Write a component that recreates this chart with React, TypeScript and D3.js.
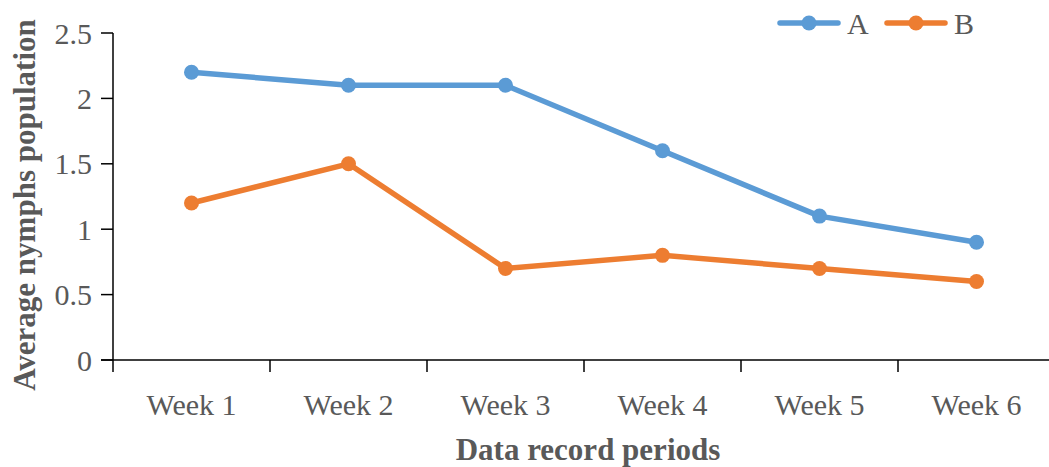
import React from "react";
import * as d3 from "d3";

const categories = ["Week 1", "Week 2", "Week 3", "Week 4", "Week 5", "Week 6"];
const seriesA = [2.2, 2.1, 2.1, 1.6, 1.1, 0.9];
const seriesB = [1.2, 1.5, 0.7, 0.8, 0.7, 0.6];
const yTicks = [0, 0.5, 1, 1.5, 2, 2.5];
const seriesNames = ["A", "B"];
const colors = ["#5B9BD5", "#ED7D31"];

const W = 1049;
const H = 467;
const left = 113;
const bottom = 360;
const top = 33;
const band = 157;

export default function App() {
  const x = d3.scaleBand<string>().domain(categories).range([left, left + band * categories.length]);
  const y = d3.scaleLinear().domain([0, 2.5]).range([bottom, top]);
  const line = d3
    .line<number>()
    .x((_, i) => (x(categories[i]) as number) + x.bandwidth() / 2)
    .y((d) => y(d));
  const font = "'Liberation Serif', 'Times New Roman', serif";
  const textColor = "#595959";
  const series = [seriesA, seriesB];
  const legendX = [780, 887];

  return (
    <svg
      width={W}
      height={H}
      style={{ position: "absolute", left: 0, top: 0, background: "#fff" }}
      fontFamily={font}
    >
      {/* y axis */}
      <line x1={left} x2={left} y1={top} y2={bottom + 12} stroke="#000" strokeWidth={1.5} />
      {yTicks.map((t) => (
        <g key={t}>
          <line x1={left - 12} x2={left} y1={y(t)} y2={y(t)} stroke="#000" strokeWidth={1.5} />
          <text
            x={left - 21}
            y={y(t)}
            textAnchor="end"
            dominantBaseline="central"
            fontSize={30}
            fill={textColor}
          >
            {t}
          </text>
        </g>
      ))}
      {/* x axis */}
      <line x1={left - 12} x2={W} y1={bottom} y2={bottom} stroke="#000" strokeWidth={1.5} />
      {categories.map((c, i) => (
        <g key={c}>
          {i > 0 && (
            <line
              x1={x(c) as number}
              x2={x(c) as number}
              y1={bottom}
              y2={bottom + 12}
              stroke="#000"
              strokeWidth={1.5}
            />
          )}
          <text
            x={(x(c) as number) + x.bandwidth() / 2}
            y={404}
            textAnchor="middle"
            dominantBaseline="central"
            fontSize={30}
            fill={textColor}
          >
            {c}
          </text>
        </g>
      ))}
      {/* axis titles */}
      <text
        x={588}
        y={449}
        textAnchor="middle"
        dominantBaseline="central"
        fontSize={31}
        fontWeight="bold"
        fill={textColor}
      >
        Data record periods
      </text>
      <text
        transform={`translate(24,${(15 + 395) / 2}) rotate(-90)`}
        textAnchor="middle"
        dominantBaseline="central"
        fontSize={31}
        fontWeight="bold"
        fill={textColor}
      >
        Average nymphs population
      </text>
      {/* series */}
      {series.map((s, k) => (
        <g key={k}>
          <path d={line(s) || ""} fill="none" stroke={colors[k]} strokeWidth={5.5} strokeLinejoin="round" />
          {s.map((v, i) => (
            <circle
              key={i}
              cx={(x(categories[i]) as number) + x.bandwidth() / 2}
              cy={y(v)}
              r={7.5}
              fill={colors[k]}
            />
          ))}
        </g>
      ))}
      {/* legend */}
      {seriesNames.map((n, k) => (
        <g key={n}>
          <line
            x1={legendX[k]}
            x2={legendX[k] + 58}
            y1={23}
            y2={23}
            stroke={colors[k]}
            strokeWidth={5.5}
            strokeLinecap="round"
          />
          <circle cx={legendX[k] + 29} cy={23} r={7.5} fill={colors[k]} />
          <text x={legendX[k] + 67} y={23} dominantBaseline="central" fontSize={30} fill={textColor}>
            {n}
          </text>
        </g>
      ))}
    </svg>
  );
}
